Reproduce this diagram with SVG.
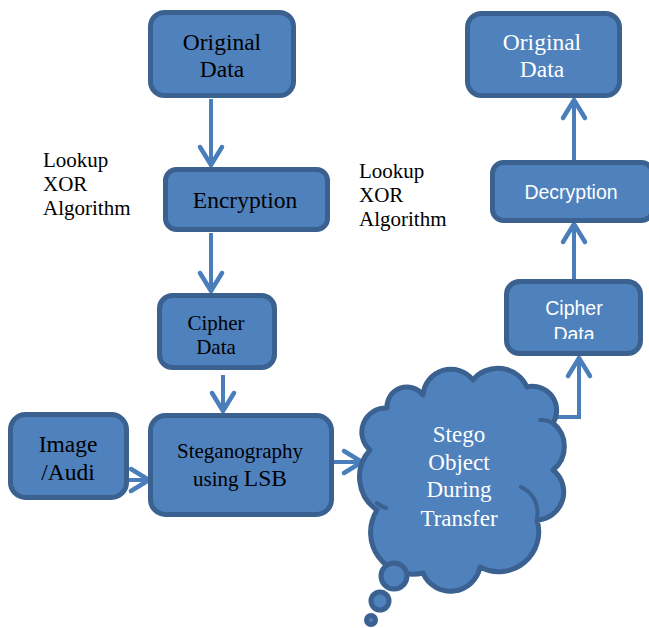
<svg xmlns="http://www.w3.org/2000/svg" width="649" height="628" viewBox="0 0 649 628">
  <style>
    .box { fill: #4F81BD; stroke: #3A6190; stroke-width: 5; }
    .serif { font-family: "Liberation Serif", "Times New Roman", serif; text-anchor: middle; }
    .sans { font-family: "Liberation Sans", Arial, sans-serif; text-anchor: middle; fill: #ffffff; }
    .dark { fill: #000000; }
    .light { fill: #ffffff; }
    .note { font-family: "Liberation Serif", "Times New Roman", serif; font-size: 21px; fill: #000000; }
    .link { fill: none; stroke: #4A7EBB; stroke-width: 4; }
    .crease { fill: none; stroke: #3A6190; stroke-width: 4; stroke-linecap: round; }
  </style>
  <defs>
    <marker id="chevron" markerUnits="userSpaceOnUse" markerWidth="30" markerHeight="30" viewBox="-24 -15 30 30" refX="0" refY="0" orient="auto" overflow="visible">
      <path d="M -18 -11 L 0 0 L -18 11" fill="none" stroke="#4A7EBB" stroke-width="4.5" stroke-linecap="round" stroke-linejoin="miter"/>
    </marker>
    <clipPath id="cipherClip">
      <rect x="505" y="280" width="138" height="59"/>
    </clipPath>
  </defs>

  <rect width="649" height="628" fill="#ffffff"/>

  <!-- connectors -->
  <g id="connectors">
    <path class="link" d="M 211 99 L 211 165" marker-end="url(#chevron)"/>
    <path class="link" d="M 211 233 L 211 291" marker-end="url(#chevron)"/>
    <path class="link" d="M 223 375 L 223 411" marker-end="url(#chevron)"/>
    <path class="link" d="M 111 480 L 149 480" marker-end="url(#chevron)"/>
    <path class="link" d="M 313 462 L 362 462" marker-end="url(#chevron)"/>
    <path class="link" d="M 556 417 L 579 417 L 579 358" marker-end="url(#chevron)"/>
    <path class="link" d="M 574 293 L 574 224" marker-end="url(#chevron)"/>
    <path class="link" d="M 574 168 L 574 100" marker-end="url(#chevron)"/>
  </g>

  <!-- notes -->
  <g id="note-left">
    <text class="note" x="43" y="167">Lookup</text>
    <text class="note" x="43" y="191">XOR</text>
    <text class="note" x="43" y="215">Algorithm</text>
  </g>
  <g id="note-right">
    <text class="note" x="359" y="178">Lookup</text>
    <text class="note" x="359" y="202">XOR</text>
    <text class="note" x="359" y="226">Algorithm</text>
  </g>

  <!-- encryption side -->
  <g id="original-data-src">
    <rect class="box" x="150.5" y="12.5" width="143" height="83" rx="14"/>
    <text class="serif dark" x="222" y="50" font-size="23.5">Original</text>
    <text class="serif dark" x="222" y="77" font-size="23.5">Data</text>
  </g>
  <g id="encryption">
    <rect class="box" x="165.5" y="169.5" width="162" height="60" rx="11"/>
    <text class="serif dark" x="245" y="208" font-size="23.5">Encryption</text>
  </g>
  <g id="cipher-data-src">
    <rect class="box" x="159.5" y="295.5" width="115" height="72" rx="13"/>
    <text class="serif dark" x="216" y="330" font-size="21">Cipher</text>
    <text class="serif dark" x="216" y="354" font-size="21">Data</text>
  </g>
  <g id="cover-media">
    <rect class="box" x="10.5" y="414.5" width="116" height="83" rx="15"/>
    <text class="serif dark" x="68" y="452" font-size="23.5">Image</text>
    <text class="serif dark" x="68" y="480" font-size="23.5">/Audi</text>
  </g>
  <g id="steganography">
    <rect class="box" x="150.5" y="415.5" width="181" height="99" rx="15"/>
    <text class="serif dark" x="240" y="458" font-size="21">Steganography</text>
    <text class="serif dark" x="240" y="486" font-size="21">using <tspan font-size="23.5">LSB</tspan></text>
  </g>

  <!-- transfer cloud -->
  <g id="stego-object">
    <path class="box" stroke-width="4.5" stroke-linejoin="round" d="M 387 408
      A 20 20 0 0 1 423 395
      A 28 28 0 0 1 473 380
      A 32 32 0 0 1 527 387
      A 24 24 0 0 1 553 423
      A 30 30 0 0 1 553 470
      A 28 28 0 0 1 537 520
      A 40 40 0 0 1 480 567
      A 30 30 0 0 1 423 573
      A 42 42 0 0 1 377 510
      A 40 40 0 0 1 370 450
      A 24 24 0 0 1 387 408 Z"/>
    <path class="crease" d="M 521 487 A 28 28 0 0 1 537 518"/>
    <path class="crease" d="M 377 503 A 20 20 0 0 0 386 508"/>
    <path class="crease" d="M 540 420 A 24 24 0 0 1 553 423"/>
    <circle class="box" stroke-width="4.5" cx="394" cy="576" r="13"/>
    <circle class="box" stroke-width="4" cx="380" cy="601" r="9"/>
    <circle class="box" stroke-width="3.5" cx="371" cy="620" r="4.5"/>
    <text class="serif light" x="459" y="442" font-size="23">Stego</text>
    <text class="serif light" x="459" y="470" font-size="23">Object</text>
    <text class="serif light" x="459" y="497" font-size="23">During</text>
    <text class="serif light" x="459" y="526" font-size="23">Transfer</text>
  </g>

  <!-- decryption side -->
  <g id="cipher-data-dst">
    <rect class="box" x="506.5" y="281.5" width="134" height="72" rx="13"/>
    <g clip-path="url(#cipherClip)">
      <text class="sans" x="574" y="315" font-size="19.5">Cipher</text>
      <text class="sans" x="574" y="341" font-size="19.5">Data</text>
    </g>
  </g>
  <g id="decryption">
    <rect class="box" x="492.5" y="162.5" width="160" height="58" rx="11"/>
    <text class="sans" x="571" y="199" font-size="19.5">Decryption</text>
  </g>
  <g id="original-data-dst">
    <rect class="box" x="467.5" y="13.5" width="152" height="82" rx="14"/>
    <text class="serif light" x="542" y="50" font-size="23.5">Original</text>
    <text class="serif light" x="542" y="77" font-size="23.5">Data</text>
  </g>
</svg>
